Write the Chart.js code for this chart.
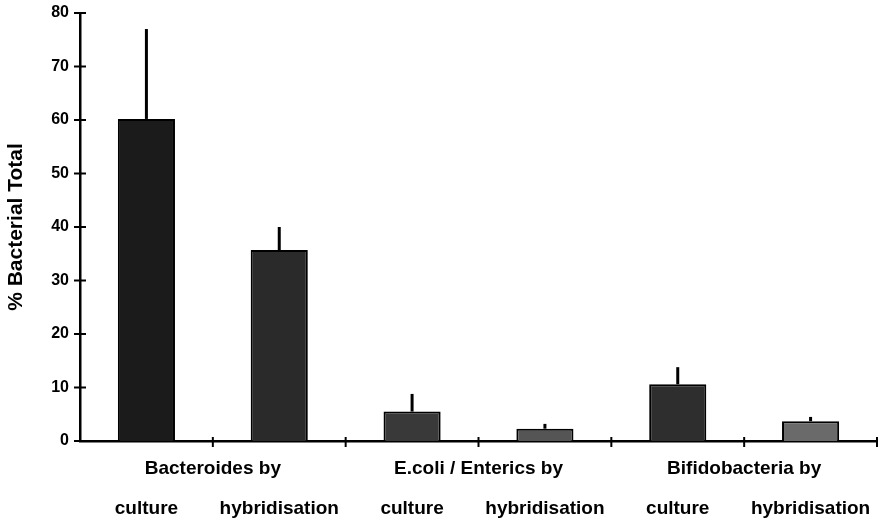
<!DOCTYPE html>
<html>
<head>
<meta charset="utf-8">
<script src="https://cdn.jsdelivr.net/npm/chart.js@4"></script>
<style>
  html, body { margin: 0; padding: 0; background: #fff; }
  #wrap { width: 878px; height: 521px; }
</style>
</head>
<body>
<div id="wrap"><canvas id="chart"></canvas></div>
<script>
const categories = ["culture", "hybridisation", "culture", "hybridisation", "culture", "hybridisation"];
const groups = ["Bacteroides by", "E.coli / Enterics by", "Bifidobacteria by"];
const means = [60.2, 35.7, 5.5, 2.3, 10.6, 3.7];
const errors = [16.8, 4.3, 3.3, 0.9, 3.2, 0.8];
const barColors = ["#1b1b1b", "#2a2a2a", "#393939", "#555555", "#2e2e2e", "#6a6a6a"];

const font = "'Liberation Sans', Arial, sans-serif";

// ticks that cross the axis lines, plus one-sided error bars
const extras = {
  id: "extras",
  afterDatasetsDraw(chart) {
    const { ctx, chartArea: a, scales: { y } } = chart;
    const line = (x1, y1, x2, y2) => {
      ctx.beginPath();
      ctx.moveTo(x1, y1);
      ctx.lineTo(x2, y2);
      ctx.stroke();
    };
    ctx.save();
    ctx.strokeStyle = "#000";
    ctx.lineWidth = 3;
    chart.getDatasetMeta(0).data.forEach((bar, i) => {
      line(bar.x, bar.y, bar.x, y.getPixelForValue(means[i] + errors[i]));
    });
    ctx.lineWidth = 2;
    y.ticks.forEach((t) => {
      const py = y.getPixelForValue(t.value);
      line(a.left - 6, py, a.left + 6, py);
    });
    const step = (a.right - a.left) / categories.length;
    for (let i = 1; i <= categories.length; i++) {
      const px = a.left + i * step;
      line(px, a.bottom - 4, px, a.bottom + 6);
    }
    ctx.restore();
  },
};

const noGrid = { display: false, drawTicks: false, tickLength: 0 };

new Chart(document.getElementById("chart"), {
  type: "bar",
  data: {
    labels: categories,
    datasets: [
      {
        data: means,
        xAxisID: "x",
        yAxisID: "y",
        backgroundColor: barColors,
        borderColor: "#000",
        borderWidth: 2,
        barPercentage: 0.43,
        categoryPercentage: 1,
      },
    ],
  },
  options: {
    responsive: true,
    maintainAspectRatio: false,
    animation: false,
    layout: { padding: { top: 13, right: 1, left: 0, bottom: 0 } },
    plugins: { legend: { display: false }, tooltip: { enabled: false } },
    scales: {
      x: {
        position: "bottom",
        weight: 2,
        grid: noGrid,
        border: { display: false },
        ticks: {
          padding: 14,
          color: "#000",
          maxRotation: 0,
          autoSkip: false,
          font: { family: font, size: 19, weight: "bold" },
        },
        afterFit: (s) => { s.height = 38; s.paddingLeft = 0; s.paddingRight = 0; },
      },
      group: {
        type: "category",
        position: "bottom",
        labels: groups,
        offset: true,
        weight: 1,
        grid: noGrid,
        border: { display: true, color: "#000", width: 2.5 },
        ticks: {
          padding: 16,
          color: "#000",
          maxRotation: 0,
          autoSkip: false,
          font: { family: font, size: 19, weight: "bold" },
        },
        afterFit: (s) => { s.height = 42; s.paddingLeft = 0; s.paddingRight = 0; },
      },
      y: {
        min: 0,
        max: 80,
        ticks: {
          stepSize: 10,
          padding: 11,
          color: "#000",
          font: { family: font, size: 16, weight: "bold" },
        },
        grid: noGrid,
        border: { display: true, color: "#000", width: 2.5 },
        title: {
          display: true,
          text: "% Bacterial Total",
          color: "#000",
          padding: { top: 4, bottom: 6 },
          font: { family: font, size: 21, weight: "bold" },
        },
        afterFit: (s) => { s.width = 80; s.paddingTop = 0; s.paddingBottom = 0; },
      },
    },
  },
  plugins: [extras],
});
</script>
</body>
</html>
